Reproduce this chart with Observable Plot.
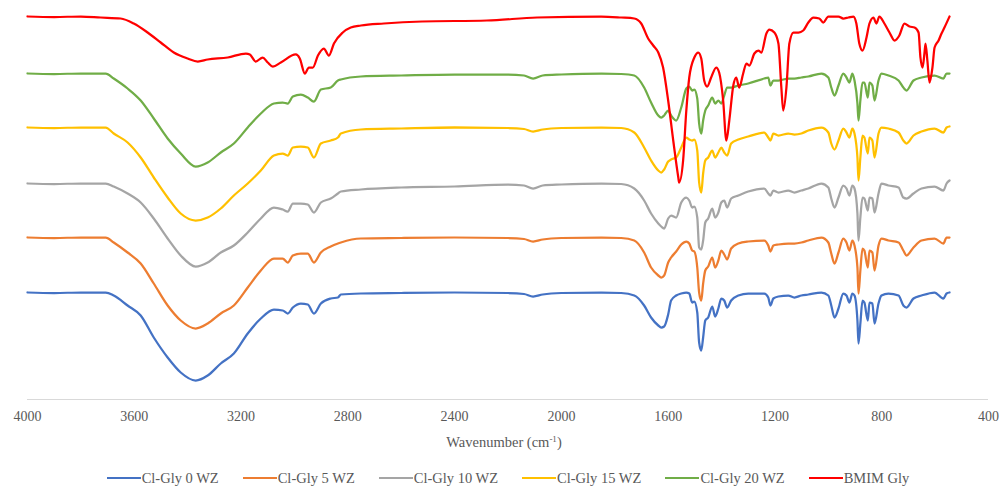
<!DOCTYPE html>
<html>
<head>
<meta charset="utf-8">
<script src="https://cdn.jsdelivr.net/npm/d3@7"></script>
<script src="https://cdn.jsdelivr.net/npm/@observablehq/plot@0.6"></script>
<style>
  html, body { margin: 0; padding: 0; background: #fff; }
  body { width: 1000px; height: 486px; overflow: hidden; font-family: "Liberation Serif", "Times New Roman", serif; color: #595959; }
  #axis-title { height: 28px; line-height: 28px; text-align: center; font-size: 14.5px; padding-left: 8px; }
  #axis-title sup { font-size: 9px; vertical-align: 0; position: relative; top: -5px; }
  #legend { margin-top: 10px; height: 24px; display: flex; justify-content: center; align-items: center; gap: 24px; font-size: 14.5px; padding-left: 16px; }
  .item { display: flex; align-items: center; white-space: nowrap; }
  .sw { width: 34px; height: 2.5px; margin-right: 1px; }
</style>
</head>
<body>
<div id="chart"></div>
<div id="axis-title">Wavenumber (cm<sup>-1</sup>)</div>
<div id="legend"></div>
<script>
// Wavenumber grid (cm-1) shared by the Cl-Gly spectra
const wavenumbers = [4000, 3900, 3800, 3707, 3677, 3625, 3576, 3527, 3475, 3426, 3370, 3325, 3276, 3227, 3175, 3126, 3077, 3044, 3025, 3006, 2976, 2950, 2927, 2901, 2864, 2837, 2826, 2751, 2600, 2400, 2200, 2140, 2106, 2070, 2000, 1850, 1776,
  1727, 1690, 1664, 1637, 1626, 1615, 1600, 1589, 1570, 1551, 1532, 1521, 1510, 1502, 1491, 1484, 1476, 1469, 1461, 1450, 1435, 1424, 1412, 1401, 1390, 1379, 1364, 1337, 1300, 1240, 1225, 1217, 1206, 1187, 1150, 1127, 1101, 1075, 1026, 1000, 989, 977, 962, 944, 932, 921, 910, 902, 891, 887, 880, 872, 865, 852, 846, 835, 827, 812, 801, 775, 737, 719, 707, 681, 651, 602, 569, 557, 546];

// Transmittance (a.u.)
const clGly0 = [100, 99.5, 100, 100, 97, 87, 77, 55, 35, 20, 12, 17, 29, 39, 59, 74, 83, 82, 79, 85, 89, 88, 79, 89, 94, 95, 98, 99, 99.5, 100, 99.5, 98.5, 96, 98, 99.5, 100, 99.5,
  97, 87, 75, 67, 65, 66, 78, 92, 97, 99, 100, 99, 90, 91, 80, 50, 42, 55, 72, 75, 86, 76, 84, 94, 92, 85, 92, 97, 99, 99, 95, 87, 94, 96, 97, 95, 97, 98, 100, 97, 87, 75, 84, 99, 97, 90, 99, 97, 72, 49, 69, 92, 90, 72, 90, 89, 69, 89, 97, 99, 97, 87, 85, 94, 97, 100, 94, 99, 100];
const clGly5 = [100, 99.5, 100, 100, 95, 85, 74, 54, 32, 17, 9, 14, 24, 32, 50, 67, 79, 79, 75, 82, 84, 84, 75, 85, 91, 94, 95, 99, 99.5, 100, 99.5, 98.5, 96, 98, 99.5, 100, 99.5,
  97, 85, 70, 62, 60, 62, 75, 80, 86, 93, 96, 94, 87, 86, 70, 45, 37, 54, 67, 71, 80, 70, 77, 87, 83, 78, 89, 94, 96, 97, 92, 86, 92, 93, 94, 94, 95, 97, 100, 95, 84, 74, 85, 99, 95, 87, 97, 92, 70, 44, 67, 89, 87, 70, 87, 85, 67, 92, 99, 97, 95, 87, 82, 90, 97, 99, 94, 100, 100];
const clGly10 = [100, 99.5, 100, 100, 97, 90, 81, 65, 45, 28, 17, 21, 31, 38, 51, 65, 76, 74, 72, 80, 80, 79, 71, 81, 85, 90, 92, 94, 96, 97, 99, 98, 95, 98, 99, 100, 99.5,
  95, 83, 70, 60, 57, 55, 65, 68, 66, 81, 86, 83, 76, 77, 66, 36, 34, 43, 61, 65, 75, 66, 71, 81, 83, 76, 85, 88, 92, 95, 90, 88, 93, 91, 93, 91, 93, 95, 100, 96, 85, 76, 86, 98, 95, 88, 98, 95, 70, 43, 66, 86, 85, 73, 86, 85, 71, 90, 100, 98, 96, 86, 85, 90, 95, 97, 93, 100, 103];
const clGly15 = [100, 99.5, 100, 100, 94, 85, 70, 50, 30, 14, 7, 10, 19, 32, 44, 57, 72, 74, 72, 80, 81, 80, 70, 84, 87, 90, 94, 98, 99, 100, 99.5, 98.5, 96, 98, 99.5, 100, 99.5,
  95, 80, 67, 57, 55, 58, 66, 68, 70, 80, 90, 88, 87, 88, 77, 45, 35, 54, 67, 70, 77, 70, 75, 80, 75, 72, 84, 88, 91, 95, 90, 87, 94, 92, 94, 93, 94, 97, 100, 95, 84, 78, 87, 99, 95, 90, 99, 94, 70, 47, 70, 92, 90, 74, 90, 87, 70, 94, 100, 99, 95, 87, 84, 92, 96, 99, 95, 100, 101];
const clGly20 = [100, 99.5, 100, 100, 95, 85, 73, 55, 35, 20, 7, 11, 21, 30, 46, 60, 70, 71, 70, 77, 79, 76, 72, 84, 86, 93, 94, 97, 98, 99, 99, 98, 95, 98, 99, 100, 99.5,
  98, 86, 71, 58, 56, 58, 63, 58, 53, 66, 85, 87, 83, 84, 75, 50, 40, 53, 63, 68, 76, 70, 73, 70, 78, 86, 86, 88, 90, 95, 96, 88, 93, 93, 95, 95, 96, 97, 100, 96, 86, 78, 88, 100, 96, 91, 100, 93, 70, 53, 73, 91, 91, 76, 91, 88, 73, 93, 100, 98, 93, 86, 83, 93, 96, 98, 95, 100, 100];

// BMIM Gly spectrum on its own wavenumber grid
const bmimWavenumbers = [4000, 3900, 3800, 3726, 3651, 3602, 3550, 3501, 3452, 3400, 3362, 3325, 3250, 3182, 3167, 3145, 3119, 3100, 3081, 3051, 2995, 2980, 2961, 2946, 2931, 2912, 2890, 2871, 2852, 2819, 2789, 2751, 2665, 2522, 2279, 2091, 1851,
  1776, 1727, 1701, 1675, 1656, 1637, 1619, 1600, 1581, 1562, 1559, 1544, 1532, 1521, 1502, 1487, 1476, 1465, 1454, 1439, 1420, 1409, 1394, 1382, 1371, 1356, 1345, 1334, 1319, 1307, 1296, 1277, 1262, 1251, 1232, 1221, 1202, 1187, 1176, 1169, 1157, 1146, 1131, 1112, 1094, 1075, 1056, 1034, 1019, 1000,
  962, 944, 925, 906, 895, 884, 872, 857, 846, 831, 820, 809, 790, 771, 752, 734, 715, 696, 677, 662, 655, 647, 640, 636, 629, 621, 610, 602, 587, 576, 565, 546];
const bmimGly = [100, 99.5, 100, 99, 98, 93, 84, 74, 64, 58, 55, 57, 59, 63, 62, 55, 59, 54, 50, 54, 62, 58, 43, 49, 49, 61, 68, 61, 73, 84, 89, 91, 93, 95, 96, 99, 100,
  99, 98, 93, 78, 71, 64, 49, 16, -24, -61, -66, -44, 6, 39, 59, 64, 58, 36, 30, 39, 49, 44, 16, -24, -4, 31, 39, 29, 43, 53, 51, 63, 66, 64, 83, 87, 84, 73, 29, 6, 29, 73, 84, 84, 86, 94, 99, 98, 94, 100,
  100, 98, 99, 100, 93, 73, 66, 79, 93, 99, 93, 100, 93, 84, 76, 81, 93, 90, 89, 84, 59, 49, 63, 73, 56, 34, 49, 69, 76, 83, 89, 100];

const seriesNames = ["Cl-Gly 0 WZ", "Cl-Gly 5 WZ", "Cl-Gly 10 WZ", "Cl-Gly 15 WZ", "Cl-Gly 20 WZ", "BMIM Gly"];
const seriesColors = ["#4472C4", "#ED7D31", "#A5A5A5", "#FFC000", "#70AD47", "#FF0000"];
const seriesOffsets = [0, 55, 109, 165, 219, 276]; // vertical stacking offsets (a.u.)
const xTicks = [4000, 3600, 3200, 2800, 2400, 2000, 1600, 1200, 800, 400];

const seriesX = [wavenumbers, wavenumbers, wavenumbers, wavenumbers, wavenumbers, bmimWavenumbers];
const seriesY = [clGly0, clGly5, clGly10, clGly15, clGly20, bmimGly];

const rows = [];
seriesNames.forEach((name, i) => {
  seriesX[i].forEach((wn, j) => {
    rows.push({ series: name, wn, t: seriesY[i][j] + seriesOffsets[i] });
  });
});

const chart = Plot.plot({
  width: 1000,
  height: 428,
  marginLeft: 27,
  marginRight: 12,
  marginTop: 0,
  marginBottom: 29,
  style: { fontFamily: "'Liberation Serif', 'Times New Roman', serif", fontSize: "14px", color: "#595959", background: "#fff" },
  x: { domain: [4000, 400] },
  y: { domain: [-7, 392], axis: null },
  color: { domain: seriesNames, range: seriesColors },
  marks: [
    Plot.ruleY([-7], { stroke: "#d9d9d9", strokeWidth: 1.2 }),
    Plot.axisX({ ticks: xTicks, tickSize: 0, tickPadding: 12, tickFormat: d => String(d), label: null, fontSize: 14, fill: "#595959" }),
    Plot.line(rows, { x: "wn", y: "t", z: "series", stroke: "series", strokeWidth: 2.25, strokeLinejoin: "round", strokeLinecap: "round", curve: "monotone-x" })
  ]
});
document.getElementById("chart").appendChild(chart);

const legend = document.getElementById("legend");
seriesNames.forEach((name, i) => {
  const item = document.createElement("div");
  item.className = "item";
  const sw = document.createElement("span");
  sw.className = "sw";
  sw.style.background = seriesColors[i];
  const label = document.createElement("span");
  label.textContent = name;
  item.appendChild(sw);
  item.appendChild(label);
  legend.appendChild(item);
});
</script>
</body>
</html>
